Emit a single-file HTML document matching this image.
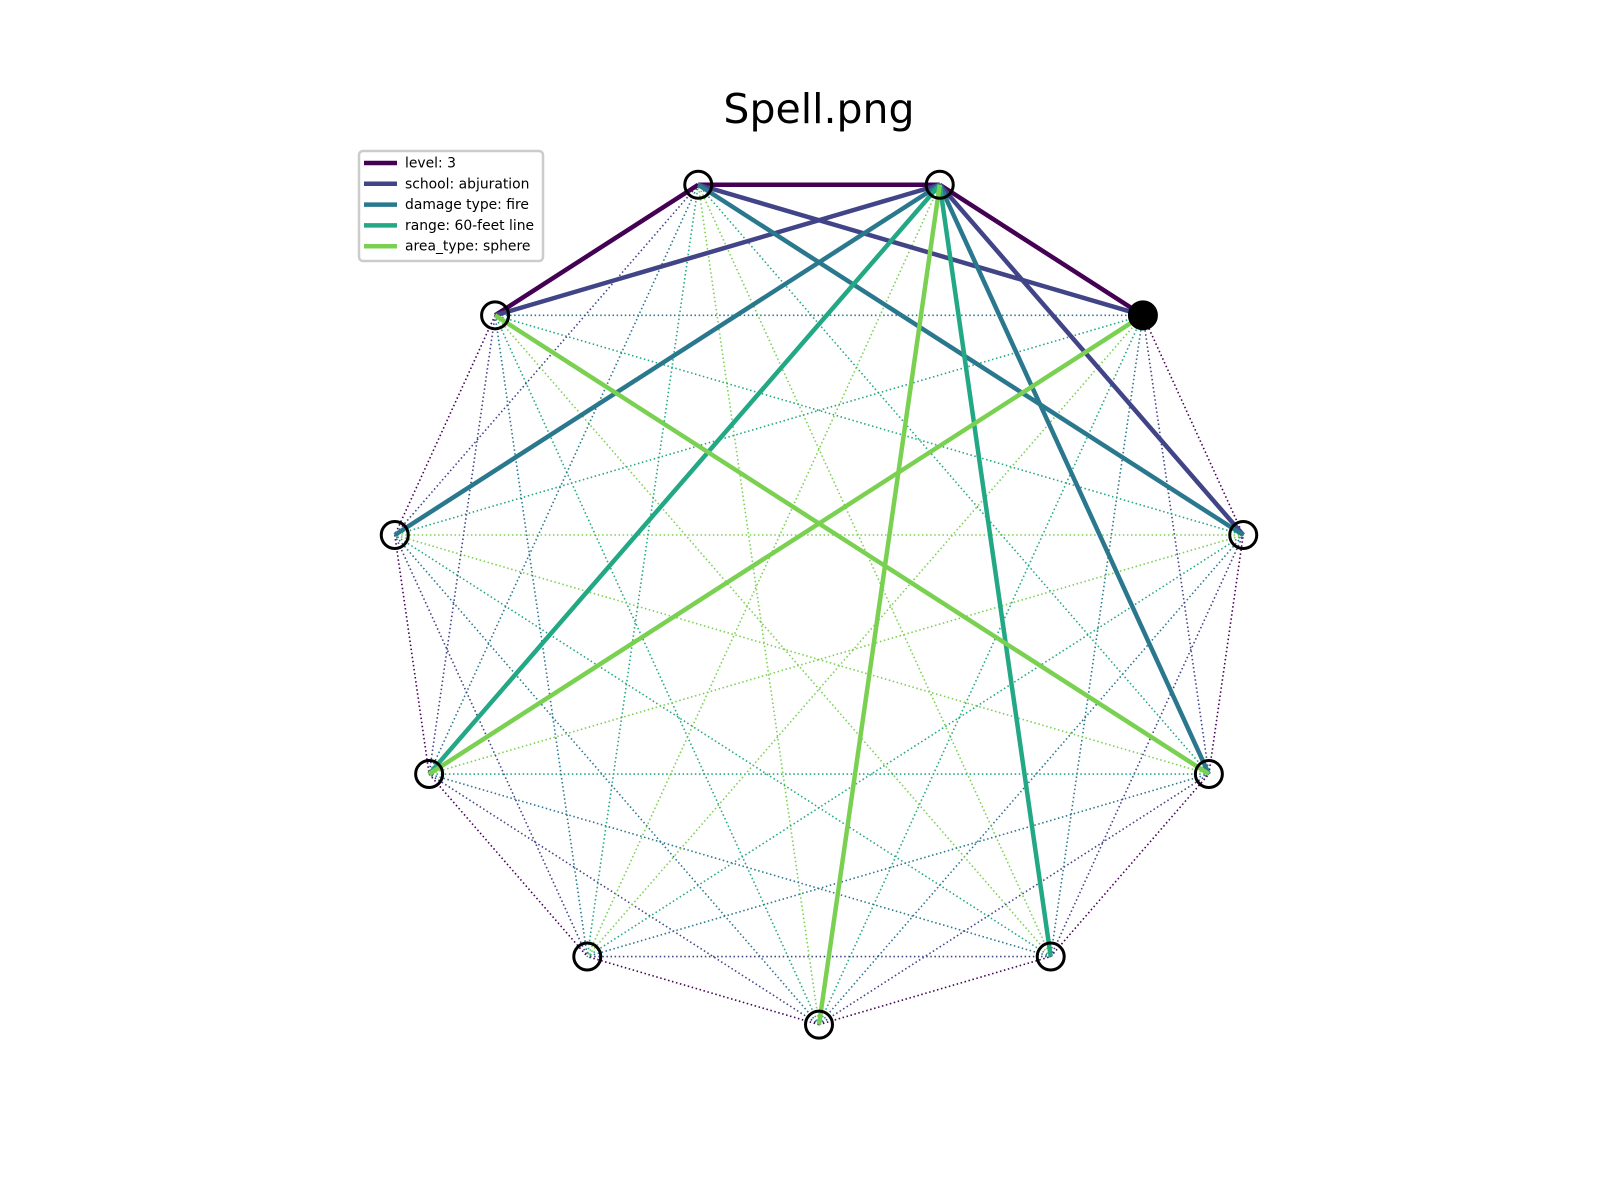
<!DOCTYPE html>
<html><head><meta charset="utf-8"><style>
body{margin:0;background:#fff}
svg{display:block}
</style></head><body>
<svg id="chart" width="1600" height="1200" viewBox="0 0 1600 1200" xmlns="http://www.w3.org/2000/svg">
<rect width="1600" height="1200" fill="#fff"/>
<text x="819" y="123" text-anchor="middle" font-family="DejaVu Sans, Liberation Sans, sans-serif" font-size="41">Spell.png</text>
<g id="dots"></g>
<g id="thick"></g>
<g id="nodes"></g>
<g>
<rect x="359" y="151" width="184" height="110" rx="4" fill="#fff" stroke="#ccc" stroke-width="2.5"/>
<g id="legend-items"></g>
</g>
</svg>
<script>
const nodeCount = 11;
const stepColors = ["#440154","#414487","#2a788e","#22a884","#7ad151"];
const legendLabels = ["level: 3","school: abjuration","damage type: fire","range: 60-feet line","area_type: sphere"];
const attributeEdges = [
  [[6,5],[6,7],[5,4]],
  [[7,5],[6,4],[5,3]],
  [[5,8],[6,3],[5,2]],
  [[5,9],[5,1]],
  [[7,2],[4,9],[5,0]]
];
const filledNodes = [4];

const cx=819, cy=596, R=428.6;
const NS="http://www.w3.org/2000/svg";
function pos(k){const a=k*2*Math.PI/nodeCount;return [cx+R*Math.sin(a), cy+R*Math.cos(a)];}
function mk(tag,attrs,parent){const e=document.createElementNS(NS,tag);for(const k in attrs)e.setAttribute(k,attrs[k]);parent.appendChild(e);return e;}

const dots=document.getElementById('dots');
for(let i=0;i<nodeCount;i++)for(let j=i+1;j<nodeCount;j++){
  let s=j-i; s=Math.min(s,nodeCount-s);
  const [x1,y1]=pos(i),[x2,y2]=pos(j);
  const l=mk('line',{x1,y1,x2,y2,stroke:stepColors[s-1],'stroke-width':1.6,'stroke-dasharray':'1.5 2.6'},dots);
  
  
}
const thick=document.getElementById('thick');
attributeEdges.forEach((edges,ci)=>edges.forEach(([a,b])=>{
  const [x1,y1]=pos(a),[x2,y2]=pos(b);
  const l=mk('line',{x1,y1,x2,y2,stroke:stepColors[ci],'stroke-width':4.5},thick);
  
  
}));
const nodes=document.getElementById('nodes');
for(let k=0;k<nodeCount;k++){
  const [x,y]=pos(k);
  const c=mk('circle',{cx:x,cy:y,r:13.5,fill:filledNodes.includes(k)?'#000':'none',stroke:'#000','stroke-width':3},nodes);
  
  
}
const li=document.getElementById('legend-items');
legendLabels.forEach((t,i)=>{
  const y=163+i*20.8;
  const l=mk('line',{x1:364,y1:y,x2:397,y2:y,stroke:stepColors[i],'stroke-width':4.5},li);
  
  
  const tx=mk('text',{x:405,y:y+4.5,'font-family':'DejaVu Sans, Liberation Sans, sans-serif','font-size':13.9,fill:'#000'},li);
  tx.textContent=t;
  
  
});
</script>
</body></html>
